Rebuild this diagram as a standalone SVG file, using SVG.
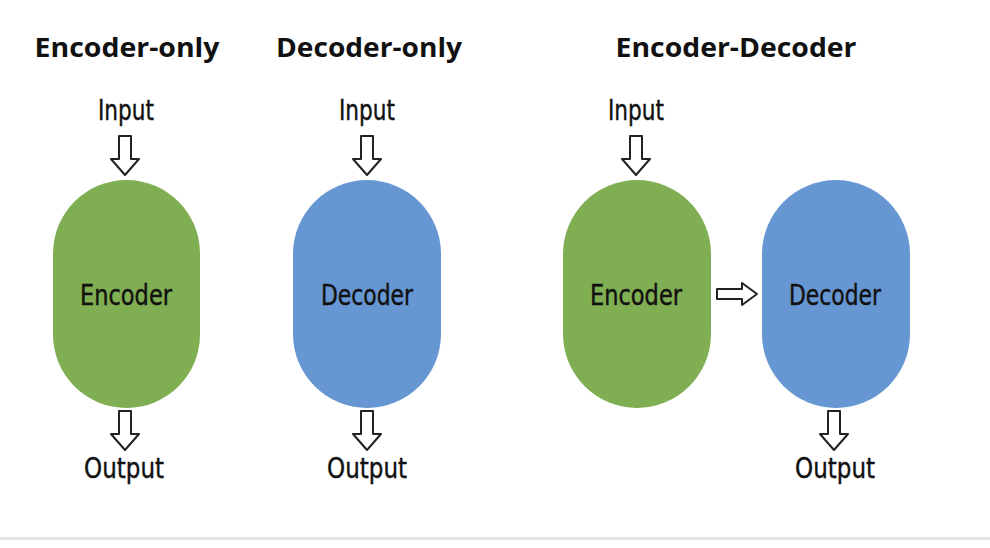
<svg xmlns="http://www.w3.org/2000/svg" width="990" height="548" viewBox="0 0 990 548">
<style>
.title{font-family:"Open Sans","Liberation Sans",sans-serif;font-weight:bold;font-size:27px;fill:#111;text-anchor:middle}
.hand{font-family:"DejaVu Sans Condensed","DejaVu Sans",sans-serif;font-size:29px;fill:#111;text-anchor:middle;stroke:#111;stroke-width:0.4}
.enc{fill:#80ae53}
.dec{fill:#6797d2}
.arr{fill:#fff;stroke:#222;stroke-width:2;stroke-linejoin:round}
</style>
<defs>
<path id="down" class="arr" d="M-6,0 L6,0 L6,23 L14,23 L0,39 L-14,23 L-6,23 Z"/>
</defs>
<rect width="990" height="548" fill="#fff"/>
<text class="title" x="127" y="57" textLength="185" lengthAdjust="spacingAndGlyphs">Encoder-only</text>
<text class="title" x="369" y="57" textLength="186" lengthAdjust="spacingAndGlyphs">Decoder-only</text>
<text class="title" x="736" y="57" textLength="241" lengthAdjust="spacingAndGlyphs">Encoder-Decoder</text>

<g id="eo-input"><text class="hand" x="126" y="120" textLength="56" lengthAdjust="spacingAndGlyphs">Input</text></g>
<g id="eo-encoder"><rect class="enc" x="53" y="180" width="147" height="228" rx="73.5"/><text class="hand" x="126" y="305" textLength="92" lengthAdjust="spacingAndGlyphs">Encoder</text></g>
<g id="eo-output"><text class="hand" x="124" y="478" textLength="80" lengthAdjust="spacingAndGlyphs">Output</text></g>

<g id="do-input"><text class="hand" x="367" y="120" textLength="56" lengthAdjust="spacingAndGlyphs">Input</text></g>
<g id="do-decoder"><rect class="dec" x="293" y="180" width="148" height="228" rx="74"/><text class="hand" x="367" y="305" textLength="92" lengthAdjust="spacingAndGlyphs">Decoder</text></g>
<g id="do-output"><text class="hand" x="367" y="478" textLength="80" lengthAdjust="spacingAndGlyphs">Output</text></g>

<g id="ed-input"><text class="hand" x="636" y="120" textLength="56" lengthAdjust="spacingAndGlyphs">Input</text></g>
<g id="ed-encoder"><rect class="enc" x="563" y="180" width="148" height="228" rx="74"/><text class="hand" x="636" y="305" textLength="92" lengthAdjust="spacingAndGlyphs">Encoder</text></g>
<g id="ed-decoder"><rect class="dec" x="762" y="180" width="148" height="228" rx="74"/><text class="hand" x="835" y="305" textLength="92" lengthAdjust="spacingAndGlyphs">Decoder</text></g>
<g id="ed-output"><text class="hand" x="835" y="478" textLength="80" lengthAdjust="spacingAndGlyphs">Output</text></g>

<g id="connectors">
<use href="#down" x="125" y="136"/>
<use href="#down" x="125" y="411"/>
<use href="#down" x="367" y="136"/>
<use href="#down" x="367" y="411"/>
<use href="#down" x="636" y="136"/>
<use href="#down" x="834" y="411"/>
<path class="arr" d="M717,289 L742,289 L742,283 L757,294 L742,305 L742,299 L717,299 Z"/>
</g>
<rect x="0" y="537" width="990" height="3" fill="#e4e4df"/>
</svg>
